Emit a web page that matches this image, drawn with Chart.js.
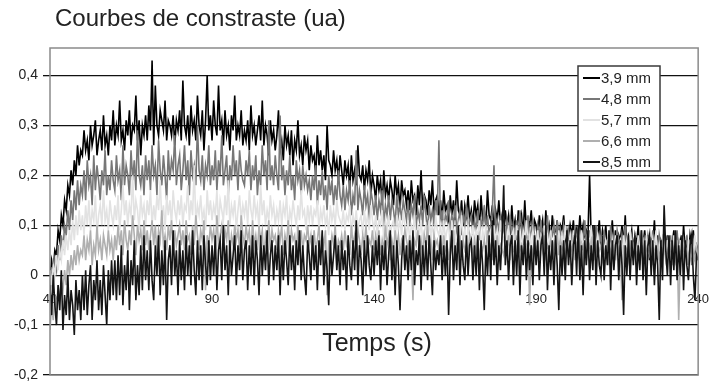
<!DOCTYPE html>
<html>
<head>
<meta charset="utf-8">
<script src="https://cdn.jsdelivr.net/npm/chart.js@4/dist/chart.umd.min.js"></script>
<style>
  html, body { margin: 0; padding: 0; background: #fff; }
  #wrap { width: 717px; height: 385px; }
</style>
</head>
<body>
<div id="wrap"><canvas id="chart" width="717" height="385"></canvas></div>
<script>
// Sampling times (s), one sample every 0.5 s
const times = [
  40, 40.5, 41, 41.5, 42, 42.5, 43, 43.5, 44, 44.5, 45, 45.5, 46, 46.5, 47, 47.5, 48, 48.5, 49, 49.5,
  50, 50.5, 51, 51.5, 52, 52.5, 53, 53.5, 54, 54.5, 55, 55.5, 56, 56.5, 57, 57.5, 58, 58.5, 59, 59.5,
  60, 60.5, 61, 61.5, 62, 62.5, 63, 63.5, 64, 64.5, 65, 65.5, 66, 66.5, 67, 67.5, 68, 68.5, 69, 69.5,
  70, 70.5, 71, 71.5, 72, 72.5, 73, 73.5, 74, 74.5, 75, 75.5, 76, 76.5, 77, 77.5, 78, 78.5, 79, 79.5,
  80, 80.5, 81, 81.5, 82, 82.5, 83, 83.5, 84, 84.5, 85, 85.5, 86, 86.5, 87, 87.5, 88, 88.5, 89, 89.5,
  90, 90.5, 91, 91.5, 92, 92.5, 93, 93.5, 94, 94.5, 95, 95.5, 96, 96.5, 97, 97.5, 98, 98.5, 99, 99.5,
  100, 100.5, 101, 101.5, 102, 102.5, 103, 103.5, 104, 104.5, 105, 105.5, 106, 106.5, 107, 107.5, 108, 108.5, 109, 109.5,
  110, 110.5, 111, 111.5, 112, 112.5, 113, 113.5, 114, 114.5, 115, 115.5, 116, 116.5, 117, 117.5, 118, 118.5, 119, 119.5,
  120, 120.5, 121, 121.5, 122, 122.5, 123, 123.5, 124, 124.5, 125, 125.5, 126, 126.5, 127, 127.5, 128, 128.5, 129, 129.5,
  130, 130.5, 131, 131.5, 132, 132.5, 133, 133.5, 134, 134.5, 135, 135.5, 136, 136.5, 137, 137.5, 138, 138.5, 139, 139.5,
  140, 140.5, 141, 141.5, 142, 142.5, 143, 143.5, 144, 144.5, 145, 145.5, 146, 146.5, 147, 147.5, 148, 148.5, 149, 149.5,
  150, 150.5, 151, 151.5, 152, 152.5, 153, 153.5, 154, 154.5, 155, 155.5, 156, 156.5, 157, 157.5, 158, 158.5, 159, 159.5,
  160, 160.5, 161, 161.5, 162, 162.5, 163, 163.5, 164, 164.5, 165, 165.5, 166, 166.5, 167, 167.5, 168, 168.5, 169, 169.5,
  170, 170.5, 171, 171.5, 172, 172.5, 173, 173.5, 174, 174.5, 175, 175.5, 176, 176.5, 177, 177.5, 178, 178.5, 179, 179.5,
  180, 180.5, 181, 181.5, 182, 182.5, 183, 183.5, 184, 184.5, 185, 185.5, 186, 186.5, 187, 187.5, 188, 188.5, 189, 189.5,
  190, 190.5, 191, 191.5, 192, 192.5, 193, 193.5, 194, 194.5, 195, 195.5, 196, 196.5, 197, 197.5, 198, 198.5, 199, 199.5,
  200, 200.5, 201, 201.5, 202, 202.5, 203, 203.5, 204, 204.5, 205, 205.5, 206, 206.5, 207, 207.5, 208, 208.5, 209, 209.5,
  210, 210.5, 211, 211.5, 212, 212.5, 213, 213.5, 214, 214.5, 215, 215.5, 216, 216.5, 217, 217.5, 218, 218.5, 219, 219.5,
  220, 220.5, 221, 221.5, 222, 222.5, 223, 223.5, 224, 224.5, 225, 225.5, 226, 226.5, 227, 227.5, 228, 228.5, 229, 229.5,
  230, 230.5, 231, 231.5, 232, 232.5, 233, 233.5, 234, 234.5, 235, 235.5, 236, 236.5, 237, 237.5, 238, 238.5, 239, 239.5,
  240
];

// Contrast curves (ua), one per depth, one row = 10 s
const c39 = [
  0.00, 0.03, 0.01, 0.05, 0.04, 0.09, 0.07, 0.12, 0.10, 0.15, 0.13, 0.18, 0.16, 0.21, 0.18, 0.23, 0.20, 0.26, 0.22, 0.25,
  0.24, 0.29, 0.25, 0.27, 0.23, 0.30, 0.26, 0.28, 0.31, 0.24, 0.27, 0.29, 0.25, 0.32, 0.26, 0.28, 0.24, 0.30, 0.27, 0.33,
  0.26, 0.30, 0.28, 0.35, 0.27, 0.29, 0.25, 0.31, 0.28, 0.33, 0.26, 0.30, 0.29, 0.36, 0.27, 0.31, 0.24, 0.30, 0.28, 0.32,
  0.27, 0.34, 0.29, 0.43, 0.26, 0.38, 0.30, 0.28, 0.33, 0.31, 0.29, 0.35, 0.27, 0.31, 0.30, 0.28, 0.32, 0.26, 0.31, 0.29,
  0.33, 0.27, 0.39, 0.30, 0.28, 0.32, 0.26, 0.34, 0.29, 0.31, 0.27, 0.36, 0.30, 0.28, 0.33, 0.25, 0.31, 0.40, 0.29, 0.32,
  0.27, 0.35, 0.30, 0.28, 0.38, 0.29, 0.31, 0.26, 0.33, 0.28, 0.30, 0.25, 0.32, 0.29, 0.36, 0.27, 0.30, 0.28, 0.33, 0.26,
  0.29, 0.27, 0.31, 0.25, 0.34, 0.28, 0.30, 0.26, 0.29, 0.32, 0.27, 0.35, 0.26, 0.30, 0.28, 0.24, 0.31, 0.27, 0.29, 0.25,
  0.28, 0.33, 0.25, 0.27, 0.23, 0.30, 0.26, 0.28, 0.24, 0.29, 0.22, 0.27, 0.25, 0.31, 0.24, 0.26, 0.22, 0.28, 0.25, 0.27,
  0.21, 0.26, 0.23, 0.24, 0.20, 0.28, 0.22, 0.25, 0.21, 0.24, 0.19, 0.30, 0.23, 0.22, 0.20, 0.25, 0.21, 0.23, 0.19, 0.24,
  0.21, 0.18, 0.23, 0.20, 0.22, 0.17, 0.24, 0.19, 0.21, 0.18, 0.26, 0.20, 0.19, 0.22, 0.17, 0.21, 0.19, 0.23, 0.16, 0.20,
  0.18, 0.15, 0.20, 0.17, 0.19, 0.14, 0.21, 0.16, 0.18, 0.15, 0.19, 0.17, 0.14, 0.20, 0.16, 0.18, 0.13, 0.19, 0.16, 0.17,
  0.14, 0.17, 0.13, 0.19, 0.15, 0.16, 0.12, 0.18, 0.14, 0.21, 0.13, 0.16, 0.15, 0.12, 0.17, 0.14, 0.19, 0.13, 0.15, 0.16,
  0.12, 0.15, 0.11, 0.17, 0.13, 0.14, 0.10, 0.16, 0.12, 0.15, 0.11, 0.19, 0.13, 0.12, 0.15, 0.10, 0.14, 0.12, 0.16, 0.11,
  0.13, 0.10, 0.15, 0.12, 0.14, 0.09, 0.16, 0.11, 0.13, 0.10, 0.17, 0.12, 0.11, 0.14, 0.09, 0.13, 0.11, 0.15, 0.10, 0.12,
  0.09, 0.13, 0.10, 0.12, 0.08, 0.14, 0.09, 0.11, 0.07, 0.13, 0.10, 0.12, 0.08, 0.15, 0.09, 0.11, 0.10, 0.13, 0.08, 0.11,
  0.10, 0.07, 0.12, 0.09, 0.11, 0.06, 0.13, 0.08, 0.10, 0.07, 0.12, 0.09, 0.08, 0.11, 0.06, 0.10, 0.09, 0.12, 0.07, 0.09,
  0.07, 0.10, 0.08, 0.11, 0.06, 0.09, 0.07, 0.12, 0.08, 0.10, 0.06, 0.09, 0.08, 0.20, 0.07, 0.10, 0.05, 0.09, 0.08, 0.11,
  0.06, 0.09, 0.07, 0.10, 0.05, 0.08, 0.07, 0.11, 0.06, 0.09, 0.04, 0.08, 0.07, 0.10, 0.06, 0.12, 0.05, 0.08, 0.07, 0.09,
  0.05, 0.08, 0.06, 0.10, 0.04, 0.07, 0.06, 0.09, 0.05, 0.08, 0.03, 0.07, 0.06, 0.11, 0.05, 0.08, 0.04, 0.07, 0.06, 0.09,
  0.05, 0.08, 0.04, 0.07, 0.06, 0.09, 0.03, 0.08, 0.05, 0.07, 0.04, 0.10, 0.05, 0.07, 0.03, 0.08, 0.06, 0.09, 0.04, 0.06,
  0.05
];
const c48 = [
  -0.04, 0.00, -0.02, 0.03, 0.01, 0.06, 0.03, 0.08, 0.05, 0.10, 0.08, 0.13, 0.09, 0.15, 0.11, 0.17, 0.13, 0.19, 0.14, 0.18,
  0.16, 0.21, 0.15, 0.23, 0.18, 0.20, 0.14, 0.24, 0.17, 0.22, 0.19, 0.15, 0.21, 0.18, 0.25, 0.16, 0.20, 0.17, 0.23, 0.19,
  0.17, 0.24, 0.19, 0.21, 0.15, 0.26, 0.18, 0.22, 0.20, 0.16, 0.25, 0.19, 0.23, 0.17, 0.29, 0.20, 0.18, 0.22, 0.16, 0.24,
  0.19, 0.23, 0.17, 0.26, 0.20, 0.22, 0.16, 0.27, 0.21, 0.18, 0.24, 0.20, 0.15, 0.25, 0.19, 0.23, 0.21, 0.28, 0.18, 0.22,
  0.24, 0.17, 0.21, 0.26, 0.19, 0.23, 0.16, 0.25, 0.20, 0.22, 0.18, 0.30, 0.21, 0.19, 0.24, 0.17, 0.22, 0.20, 0.26, 0.18,
  0.22, 0.19, 0.25, 0.17, 0.23, 0.20, 0.28, 0.18, 0.21, 0.24, 0.16, 0.22, 0.19, 0.26, 0.20, 0.23, 0.17, 0.25, 0.21, 0.19,
  0.18, 0.23, 0.20, 0.25, 0.17, 0.22, 0.19, 0.24, 0.16, 0.21, 0.18, 0.26, 0.20, 0.23, 0.17, 0.31, 0.19, 0.22, 0.18, 0.24,
  0.20, 0.17, 0.32, 0.19, 0.22, 0.16, 0.21, 0.18, 0.24, 0.17, 0.20, 0.15, 0.23, 0.19, 0.21, 0.16, 0.22, 0.18, 0.20, 0.17,
  0.19, 0.15, 0.20, 0.17, 0.22, 0.14, 0.19, 0.16, 0.21, 0.15, 0.18, 0.13, 0.20, 0.16, 0.19, 0.14, 0.18, 0.15, 0.21, 0.16,
  0.14, 0.18, 0.13, 0.17, 0.15, 0.19, 0.12, 0.16, 0.14, 0.25, 0.13, 0.17, 0.15, 0.12, 0.18, 0.14, 0.16, 0.11, 0.17, 0.15,
  0.12, 0.16, 0.11, 0.15, 0.13, 0.17, 0.10, 0.14, 0.12, 0.16, 0.11, 0.15, 0.13, 0.10, 0.16, 0.12, 0.14, 0.11, 0.15, 0.13,
  0.11, 0.15, 0.10, 0.14, 0.12, 0.16, 0.09, 0.13, 0.11, 0.14, 0.10, 0.16, 0.12, 0.09, 0.14, 0.11, 0.13, 0.10, 0.15, 0.12,
  0.27, 0.10, 0.13, 0.09, 0.12, 0.11, 0.15, 0.08, 0.12, 0.10, 0.14, 0.09, 0.11, 0.13, 0.08, 0.12, 0.10, 0.14, 0.09, 0.11,
  0.12, 0.08, 0.11, 0.09, 0.13, 0.07, 0.11, 0.10, 0.14, 0.09, 0.12, 0.08, 0.10, 0.13, 0.22, 0.07, 0.11, 0.09, 0.12, 0.08,
  0.10, 0.07, 0.11, 0.09, 0.12, 0.06, 0.10, 0.08, 0.11, 0.07, 0.13, 0.09, 0.06, 0.10, 0.08, 0.12, 0.07, 0.09, 0.11, 0.08,
  0.06, 0.10, 0.08, 0.11, 0.05, 0.09, 0.07, 0.12, 0.06, 0.09, 0.08, 0.10, 0.05, 0.11, 0.07, 0.09, 0.06, 0.10, 0.08, 0.07,
  0.09, 0.05, 0.08, 0.06, 0.10, 0.07, 0.09, 0.04, 0.08, 0.06, 0.11, 0.07, 0.05, 0.09, 0.06, 0.08, 0.04, 0.10, 0.07, 0.06,
  0.08, 0.05, 0.09, 0.06, 0.07, 0.04, 0.10, 0.06, 0.08, 0.05, 0.09, 0.07, 0.04, 0.08, 0.06, 0.10, 0.05, 0.07, 0.06, 0.08,
  0.05, 0.08, 0.04, 0.07, 0.06, 0.09, 0.03, 0.07, 0.05, 0.08, 0.06, 0.04, 0.09, 0.05, 0.07, 0.03, 0.08, 0.06, 0.05, 0.07,
  0.04, 0.07, 0.05, 0.08, 0.03, 0.06, 0.05, 0.09, 0.04, 0.06, 0.03, 0.07, 0.05, 0.08, 0.04, 0.06, 0.02, 0.07, 0.05, 0.06,
  0.04
];
const c57 = [
  0.01, -0.02, 0.02, 0.00, 0.04, 0.01, 0.05, 0.03, 0.07, 0.04, 0.08, 0.05, 0.09, 0.06, 0.11, 0.07, 0.12, 0.08, 0.13, 0.09,
  0.12, 0.08, 0.14, 0.10, 0.15, 0.09, 0.13, 0.11, 0.16, 0.08, 0.12, 0.14, 0.10, 0.17, 0.11, 0.13, 0.09, 0.15, 0.12, 0.10,
  0.14, 0.11, 0.16, 0.09, 0.13, 0.18, 0.12, 0.15, 0.10, 0.14, 0.12, 0.20, 0.11, 0.15, 0.13, 0.09, 0.16, 0.12, 0.14, 0.10,
  0.15, 0.12, 0.17, 0.10, 0.14, 0.11, 0.16, 0.13, 0.19, 0.11, 0.14, 0.09, 0.16, 0.12, 0.15, 0.10, 0.17, 0.13, 0.11, 0.15,
  0.12, 0.16, 0.10, 0.14, 0.13, 0.18, 0.11, 0.15, 0.12, 0.22, 0.10, 0.14, 0.12, 0.16, 0.11, 0.13, 0.09, 0.17, 0.12, 0.15,
  0.11, 0.14, 0.12, 0.17, 0.10, 0.15, 0.13, 0.11, 0.16, 0.12, 0.19, 0.10, 0.14, 0.12, 0.15, 0.09, 0.13, 0.16, 0.11, 0.14,
  0.12, 0.15, 0.10, 0.17, 0.13, 0.11, 0.16, 0.12, 0.14, 0.09, 0.18, 0.12, 0.15, 0.10, 0.13, 0.11, 0.16, 0.12, 0.14, 0.10,
  0.13, 0.11, 0.15, 0.10, 0.14, 0.12, 0.16, 0.09, 0.13, 0.11, 0.15, 0.12, 0.10, 0.14, 0.11, 0.17, 0.12, 0.13, 0.09, 0.14,
  0.11, 0.14, 0.10, 0.13, 0.12, 0.15, 0.09, 0.13, 0.11, 0.14, 0.10, 0.12, 0.08, 0.14, 0.11, 0.13, 0.10, 0.15, 0.12, 0.11,
  0.10, 0.13, 0.09, 0.12, 0.11, 0.14, 0.08, 0.12, 0.10, 0.13, 0.09, 0.11, 0.12, 0.08, 0.13, 0.10, 0.12, 0.09, 0.14, 0.11,
  0.09, 0.12, 0.08, 0.11, 0.10, 0.13, 0.07, 0.11, 0.09, 0.12, 0.08, 0.10, 0.11, 0.07, 0.12, 0.09, 0.11, 0.08, 0.13, 0.10,
  0.08, 0.11, 0.07, 0.10, 0.09, 0.12, 0.06, 0.10, 0.08, 0.11, 0.07, 0.09, 0.10, 0.06, 0.11, 0.08, 0.10, 0.07, 0.12, 0.09,
  0.08, 0.10, 0.06, 0.11, 0.07, 0.09, 0.10, 0.06, 0.11, 0.08, 0.09, 0.05, 0.10, 0.08, 0.12, 0.07, 0.09, 0.06, 0.10, 0.08,
  0.07, 0.10, 0.06, 0.09, 0.08, 0.11, 0.05, 0.09, 0.07, 0.10, 0.06, 0.08, 0.09, 0.05, 0.10, 0.07, 0.09, 0.06, 0.11, 0.08,
  0.07, 0.09, 0.05, 0.10, 0.06, 0.08, 0.09, 0.05, 0.10, 0.07, 0.08, 0.04, 0.09, 0.07, 0.11, 0.06, 0.08, 0.05, 0.09, 0.07,
  0.06, 0.09, 0.05, 0.08, 0.07, 0.10, 0.04, 0.08, 0.06, 0.09, 0.05, 0.07, 0.08, 0.04, 0.09, 0.06, 0.08, 0.05, 0.10, 0.07,
  0.06, 0.08, 0.04, 0.09, 0.06, 0.07, 0.08, 0.04, 0.09, 0.06, 0.07, 0.03, 0.08, 0.06, 0.10, 0.05, 0.07, 0.04, 0.08, 0.06,
  0.05, 0.08, 0.04, 0.07, 0.06, 0.09, 0.03, 0.07, 0.05, 0.08, 0.04, 0.06, 0.07, 0.03, 0.08, 0.05, 0.07, 0.04, 0.09, 0.06,
  0.05, 0.07, 0.03, 0.08, 0.05, 0.06, 0.07, 0.03, 0.08, 0.05, 0.06, 0.02, 0.07, 0.05, 0.09, 0.04, 0.06, 0.03, 0.07, 0.05,
  0.04, 0.07, 0.03, 0.06, 0.05, 0.08, 0.02, 0.06, 0.04, 0.07, 0.03, 0.05, 0.06, 0.02, 0.07, 0.04, 0.06, 0.03, 0.08, 0.05,
  0.04
];
const c66 = [
  -0.11, -0.06, -0.09, -0.04, -0.07, -0.02, -0.05, -0.01, -0.03, 0.01, -0.02, 0.03, 0.00, 0.04, 0.01, 0.05, 0.02, 0.06, 0.03, 0.05,
  0.04, 0.08, 0.03, 0.07, 0.05, 0.09, 0.02, 0.06, 0.04, 0.10, 0.05, 0.07, 0.03, 0.08, 0.06, 0.04, 0.09, 0.05, 0.07, 0.03,
  0.08, 0.05, 0.10, 0.06, 0.09, 0.04, 0.11, 0.07, 0.05, 0.09, 0.06, 0.12, 0.08, 0.04, 0.10, 0.07, 0.09, 0.05, 0.11, 0.06,
  0.09, 0.05, 0.08, 0.11, 0.06, 0.10, 0.04, 0.09, 0.07, 0.13, 0.06, 0.08, 0.05, 0.10, 0.07, 0.11, 0.05, 0.09, 0.06, 0.08,
  0.10, 0.06, 0.09, 0.05, 0.11, 0.07, 0.08, 0.04, 0.10, 0.06, 0.12, 0.08, 0.05, 0.09, 0.07, 0.11, -0.03, 0.08, 0.06, 0.10,
  0.07, 0.09, 0.05, 0.12, 0.06, 0.08, 0.10, 0.05, 0.09, 0.07, 0.11, 0.04, 0.08, 0.06, 0.10, 0.07, 0.09, 0.05, 0.12, 0.08,
  0.06, 0.10, 0.07, 0.09, 0.04, 0.11, 0.06, 0.08, 0.05, 0.10, 0.07, 0.09, 0.03, 0.08, 0.06, 0.11, 0.05, 0.09, 0.07, 0.08,
  0.05, 0.09, 0.07, 0.10, 0.04, 0.08, 0.06, 0.11, 0.05, 0.09, 0.07, 0.08, 0.04, 0.10, 0.06, 0.09, 0.05, 0.08, 0.07, 0.10,
  0.06, 0.08, 0.04, 0.09, 0.05, 0.07, 0.10, 0.05, 0.08, 0.06, 0.09, -0.04, 0.07, 0.05, 0.08, 0.06, 0.10, 0.04, 0.07, 0.06,
  0.08, 0.05, 0.09, 0.06, 0.07, 0.04, 0.10, 0.06, 0.08, 0.05, 0.09, 0.07, 0.04, 0.08, 0.06, 0.10, 0.05, 0.07, 0.06, 0.09,
  0.05, 0.08, 0.06, 0.09, 0.04, 0.07, 0.05, 0.10, 0.06, 0.08, 0.03, 0.07, 0.05, 0.09, 0.06, 0.08, 0.04, 0.07, 0.06, 0.09,
  0.07, 0.05, 0.08, 0.04, -0.05, 0.07, 0.06, 0.09, 0.05, 0.07, 0.04, 0.08, 0.06, 0.10, 0.05, 0.07, 0.03, 0.08, 0.06, 0.07,
  0.05, 0.07, 0.04, 0.08, 0.05, 0.06, 0.03, 0.07, 0.05, 0.09, 0.04, 0.06, 0.05, 0.08, 0.03, 0.07, 0.05, 0.06, 0.04, 0.08,
  0.06, 0.04, 0.07, 0.05, 0.08, 0.03, 0.06, 0.05, 0.07, 0.04, 0.09, 0.05, 0.06, 0.03, 0.07, 0.05, 0.08, 0.04, 0.06, 0.05,
  0.04, 0.07, 0.05, 0.08, 0.03, 0.06, 0.05, 0.07, 0.04, 0.09, 0.05, 0.06, 0.03, 0.07, 0.05, 0.08, -0.06, 0.06, 0.04, 0.07,
  0.05, 0.06, 0.03, 0.07, 0.05, 0.08, 0.04, 0.06, 0.05, 0.07, 0.03, 0.06, 0.05, 0.08, 0.04, 0.07, 0.05, 0.06, 0.03, 0.07,
  0.04, 0.06, 0.05, 0.08, 0.03, 0.06, 0.04, 0.07, 0.05, 0.06, 0.02, 0.07, 0.04, 0.06, 0.05, 0.08, 0.03, 0.06, 0.04, 0.05,
  0.06, 0.03, 0.05, 0.04, 0.07, 0.02, 0.05, 0.04, 0.06, 0.03, 0.07, 0.04, 0.05, -0.05, 0.06, 0.04, 0.05, 0.03, 0.07, 0.04,
  0.03, 0.05, 0.04, 0.06, 0.02, 0.05, 0.04, 0.07, 0.03, 0.05, 0.04, 0.06, 0.02, 0.05, 0.04, 0.06, 0.03, 0.05, 0.04, 0.06,
  0.03, 0.05, 0.04, 0.06, 0.02, 0.05, 0.03, 0.07, -0.09, 0.04, 0.03, 0.06, 0.04, 0.05, 0.02, 0.06, 0.04, 0.05, 0.03, 0.05,
  0.03
];
const c85 = [
  -0.02, -0.08, 0.00, -0.06, -0.10, -0.02, -0.07, 0.01, -0.11, -0.04, -0.08, 0.00, -0.09, -0.03, -0.06, -0.12, -0.01, -0.07, -0.03, -0.09,
  0.00, -0.07, 0.01, -0.08, -0.02, 0.02, -0.09, -0.01, -0.05, 0.03, -0.07, -0.01, -0.08, 0.02, -0.04, -0.10, 0.01, -0.05, 0.03, -0.04,
  0.03, -0.05, 0.04, -0.04, 0.06, -0.06, 0.02, -0.03, 0.05, -0.07, 0.03, -0.02, 0.07, -0.05, 0.02, -0.04, 0.06, -0.03, 0.08, -0.01,
  0.05, -0.03, 0.07, -0.01, -0.05, 0.06, 0.00, 0.08, -0.04, 0.05, -0.02, 0.07, -0.09, 0.03, 0.06, -0.02, 0.09, 0.00, 0.05, -0.04,
  0.07, -0.01, 0.05, -0.03, 0.08, 0.00, 0.06, -0.02, 0.09, 0.01, -0.04, 0.07, -0.01, 0.06, -0.03, 0.08, 0.02, -0.02, 0.07, -0.01,
  0.06, 0.00, 0.08, -0.03, 0.05, 0.07, -0.01, 0.10, 0.01, 0.06, -0.04, 0.07, 0.00, 0.04, 0.08, -0.02, 0.06, 0.01, 0.09, -0.01,
  0.05, 0.07, -0.03, 0.06, 0.00, 0.08, -0.02, 0.07, 0.03, -0.04, 0.08, 0.00, 0.06, 0.01, 0.09, -0.02, 0.04, 0.07, -0.01, 0.06,
  0.01, 0.08, -0.04, 0.06, -0.01, 0.07, 0.03, -0.02, 0.08, 0.01, 0.06, -0.03, 0.07, 0.02, 0.09, -0.01, 0.06, 0.00, -0.04, 0.07,
  0.04, -0.01, 0.08, 0.01, 0.06, -0.03, 0.07, 0.02, 0.09, -0.02, 0.05, 0.01, -0.06, 0.07, 0.00, 0.04, 0.08, 0.01, 0.06, -0.02,
  0.07, 0.01, 0.05, -0.03, 0.08, 0.02, -0.01, 0.07, 0.01, 0.11, -0.02, 0.06, 0.03, -0.04, 0.07, 0.00, 0.08, 0.02, -0.01, 0.06,
  0.00, 0.07, 0.02, 0.08, -0.03, 0.06, 0.01, 0.07, -0.02, 0.04, 0.09, -0.01, 0.06, -0.04, 0.07, 0.02, -0.07, 0.03, 0.08, 0.01,
  0.06, -0.01, 0.07, 0.01, 0.09, -0.02, 0.05, 0.02, 0.08, -0.03, 0.06, 0.00, 0.07, -0.01, 0.08, 0.02, -0.04, 0.07, 0.01, 0.05,
  0.02, 0.08, -0.01, 0.06, 0.00, 0.07, -0.08, 0.04, 0.09, -0.01, 0.06, 0.01, 0.10, -0.02, 0.07, 0.02, -0.01, 0.08, 0.00, 0.06,
  0.07, -0.01, 0.06, 0.00, 0.08, -0.03, 0.07, 0.02, -0.07, 0.06, 0.00, 0.08, -0.01, 0.11, 0.02, 0.07, -0.02, 0.06, 0.01, 0.08,
  0.18, 0.02, 0.07, -0.01, 0.06, 0.08, -0.02, 0.07, 0.00, 0.09, -0.04, 0.06, 0.02, 0.08, -0.01, 0.07, 0.01, 0.06, -0.02, 0.08,
  0.02, 0.07, -0.01, 0.06, 0.08, 0.00, 0.10, -0.03, 0.06, 0.01, 0.07, -0.02, 0.08, 0.02, -0.07, 0.06, 0.00, 0.07, -0.01, 0.09,
  0.02, 0.07, -0.02, 0.06, 0.08, 0.00, 0.10, -0.01, 0.06, -0.04, 0.07, 0.02, 0.09, -0.01, 0.06, 0.01, 0.10, -0.02, 0.07, 0.02,
  0.00, 0.08, -0.01, 0.06, 0.02, 0.09, -0.03, 0.07, 0.01, 0.06, 0.08, -0.01, 0.07, 0.02, -0.08, 0.06, 0.00, 0.08, -0.01, 0.07,
  0.02, 0.08, -0.02, 0.06, 0.01, 0.09, -0.01, 0.07, -0.04, 0.06, 0.08, 0.00, 0.07, -0.02, 0.06, 0.02, -0.09, 0.07, -0.01, 0.14,
  0.05, 0.00, 0.08, -0.02, 0.07, 0.01, 0.09, -0.01, 0.06, 0.00, 0.08, -0.03, 0.07, 0.02, -0.01, 0.06, 0.08, 0.00, -0.05, 0.04,
  0.03
];

const seriesNames = ['3,9 mm', '4,8 mm', '5,7 mm', '6,6 mm', '8,5 mm'];
const seriesValues = [c39, c48, c57, c66, c85];
const seriesColors = ['#000000', '#777777', '#e2e2e2', '#afafaf', '#141414'];
const yTicks = [-0.2, -0.1, 0, 0.1, 0.2, 0.3, 0.4];

const FONT = '"Liberation Sans", Arial, sans-serif';

// Title, x-axis caption, frame and the boxed legend
const decorPlugin = {
  id: 'decor',
  afterDatasetsDraw(chart) {
    const { ctx, chartArea: a } = chart;
    ctx.save();
    ctx.strokeStyle = '#8a8a8a';
    ctx.lineWidth = 1.5;
    ctx.strokeRect(a.left, a.top, a.right - a.left, a.bottom - a.top);

    ctx.fillStyle = '#222';
    ctx.font = '24px ' + FONT;
    ctx.textBaseline = 'middle';
    ctx.textAlign = 'left';
    ctx.fillText('Courbes de constraste (ua)', 55, 19);

    ctx.font = '25px ' + FONT;
    ctx.textAlign = 'center';
    ctx.fillText('Temps (s)', 377, 344);

    // legend box
    const bx = 578, by = 66, bw = 82, bh = 105;
    ctx.fillStyle = '#fff';
    ctx.fillRect(bx, by, bw, bh);
    ctx.strokeStyle = '#3a3a3a';
    ctx.lineWidth = 1.5;
    ctx.strokeRect(bx, by, bw, bh);
    ctx.font = '15px ' + FONT;
    ctx.textAlign = 'left';
    seriesNames.forEach((name, i) => {
      const y = by + 12 + i * 21;
      ctx.strokeStyle = seriesColors[i];
      ctx.lineWidth = 2;
      ctx.beginPath();
      ctx.moveTo(bx + 5, y);
      ctx.lineTo(bx + 22, y);
      ctx.stroke();
      ctx.fillStyle = '#222';
      ctx.fillText(name, bx + 23, y + 1);
    });
    ctx.restore();
  }
};

new Chart(document.getElementById('chart'), {
  type: 'line',
  data: {
    datasets: seriesNames.map((name, i) => ({
      label: name,
      data: seriesValues[i].map((v, j) => ({ x: times[j], y: v })),
      borderColor: seriesColors[i],
      borderWidth: 1.6,
      pointRadius: 0,
      tension: 0,
      order: seriesNames.length - i
    }))
  },
  options: {
    responsive: false,
    animation: false,
    layout: { padding: { top: 48, right: 5, bottom: 10, left: 0 } },
    plugins: {
      legend: { display: false },
      tooltip: { enabled: false }
    },
    scales: {
      x: {
        type: 'linear',
        position: { y: 0 },
        min: 40,
        max: 240,
        afterFit: (s) => { s.height = 0; },
        grid: { display: false },
        border: { display: false },
        ticks: {
          stepSize: 50,
          padding: 8,
          color: '#222',
          font: { family: FONT, size: 13 }
        }
      },
      y: {
        min: -0.2,
        max: 0.455,
        afterFit: (s) => { s.width = 50; s.paddingTop = 0; s.paddingBottom = 0; },
        afterBuildTicks: (s) => { s.ticks = yTicks.map(v => ({ value: v })); },
        grid: { color: '#111', lineWidth: 1.3, tickLength: 7 },
        border: { display: false },
        ticks: {
          padding: 5,
          color: '#222',
          font: { family: FONT, size: 14 },
          callback: (v) => String(Math.round(v * 10) / 10).replace('.', ',')
        }
      }
    }
  },
  plugins: [decorPlugin]
});
</script>
</body>
</html>
